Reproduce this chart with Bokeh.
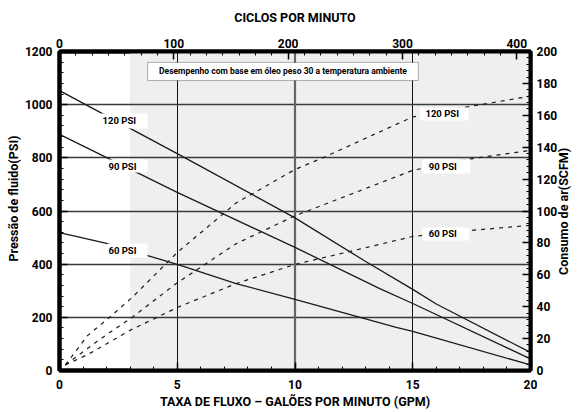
import math
from bokeh.plotting import figure
from bokeh.models import (Range1d, LinearAxis, FixedTicker, SingleIntervalTicker,
                          BoxAnnotation, Label, Span)
from bokeh.embed import file_html
from bokeh.resources import INLINE

# ---------------- data ----------------
# fluid pressure (PSI, left axis) vs flow (GPM)
gpm_p120 = [0, 5, 10, 13, 15, 16, 20]
psi_p120 = [1053, 816, 574, 410, 305, 250, 68]
gpm_p90 = [0, 5, 10, 13.6, 15, 20]
psi_p90 = [888, 670, 463, 308, 252, 44]
gpm_p60 = [0, 2, 5, 7.5, 10, 14.3, 15, 20]
psi_p60 = [519, 478, 399, 327, 268, 162, 147, 21]

# air consumption (SCFM, right axis) vs flow (GPM)
gpm_a120 = [0.25, 1.2, 2.1, 3.1, 5, 7.5, 10, 11.2, 15, 17.6, 20]
scfm_a120 = [3.5, 22, 33, 46, 74, 105, 126, 133.5, 159, 166, 172]
gpm_a90 = [0.25, 1.66, 3.1, 5, 7.5, 10, 15, 17.6, 20]
scfm_a90 = [3.5, 19, 33.5, 55, 79.5, 97, 125.5, 133, 138]
gpm_a60 = [0.25, 1.2, 3.1, 4.1, 5, 7.5, 10, 15, 17.6, 20]
scfm_a60 = [3.5, 10, 26, 33, 39.5, 54.5, 66.5, 84, 88, 91]

series_labels = ["120 PSI", "90 PSI", "60 PSI"]
note_text = "Desempenho com base em óleo peso 30 a temperatura ambiente"
title_top = "CICLOS POR MINUTO"
title_bottom = "TAXA DE FLUXO – GALÕES POR MINUTO (GPM)"
title_left = "Pressão de fluido(PSI)"
title_right = "Consumo de ar(SCFM)"

x_grid = [5, 15]
x_grid_bold = 10
y_grid = [200, 400, 600, 800, 1000]
shade_from_gpm = 3

FONT = "Roboto"
NBSP = "\u00a0"
EMSP = "\u2003"

p = figure(width=582, height=412, x_range=Range1d(0, 20), y_range=Range1d(0, 1200),
           output_backend="svg", toolbar_location=None,
           min_border_left=59, min_border_right=52, min_border_top=51, min_border_bottom=42)
p.extra_x_ranges = {"cpm": Range1d(0, 412)}
p.extra_y_ranges = {"scfm": Range1d(0, 200)}
p.outline_line_color = "black"
p.outline_line_width = 4
p.background_fill_color = "white"

# shaded region
p.add_layout(BoxAnnotation(left=shade_from_gpm, fill_color="#efefef", fill_alpha=1,
                           line_color=None, level="image"))

p.xgrid.ticker = FixedTicker(ticks=x_grid)
p.xgrid.grid_line_color = "#111111"
p.xgrid.grid_line_width = 1
p.ygrid.ticker = FixedTicker(ticks=y_grid)
p.ygrid.grid_line_color = "#3a3a3a"
p.ygrid.grid_line_width = 1.3
p.add_layout(Span(location=x_grid_bold, dimension="height", line_color="#666666",
                  line_width=2.2, level="underlay"))

def style(ax, interval, minor, standoff, label, label_standoff):
    ax.ticker = SingleIntervalTicker(interval=interval, num_minor_ticks=minor)
    ax.axis_line_width = 4
    ax.axis_line_color = "black"
    ax.major_tick_in = 8
    ax.major_tick_out = 0
    ax.minor_tick_in = 4
    ax.minor_tick_out = 0
    ax.major_tick_line_width = 1.5
    ax.minor_tick_line_width = 1
    ax.major_tick_line_color = "black"
    ax.minor_tick_line_color = "black"
    ax.major_label_text_font = FONT
    ax.major_label_text_font_style = "bold"
    ax.major_label_text_font_size = "12px"
    ax.major_label_text_color = "black"
    ax.major_label_standoff = standoff
    ax.axis_label = label
    ax.axis_label_standoff = label_standoff
    ax.axis_label_text_font = FONT
    ax.axis_label_text_font_style = "bold"
    ax.axis_label_text_font_size = "12.5px"
    ax.axis_label_text_color = "black"

style(p.xaxis[0], 5, 5, 9, title_bottom, 2)
# leading no-break spaces move the rotated title up a little, as in the original
style(p.yaxis[0], 200, 5, 7, NBSP * 8 + title_left, 1)

top = LinearAxis(x_range_name="cpm")
style(top, 100, 7, 4, title_top, 11)
p.add_layout(top, "above")

right = LinearAxis(y_range_name="scfm")
style(right, 20, 5, 6, EMSP * 7 + NBSP * 2 + title_right, 3)
right.axis_label_orientation = math.pi / 2   # read bottom-to-top like the original
if "axis_label_align" in right.properties():
    right.axis_label_align = "start"
p.add_layout(right, "right")

# curves
for xs, ys in [(gpm_p120, psi_p120), (gpm_p90, psi_p90), (gpm_p60, psi_p60)]:
    p.line(xs, ys, line_color="#1a1a1a", line_width=1.3)
for xs, ys in [(gpm_a120, scfm_a120), (gpm_a90, scfm_a90), (gpm_a60, scfm_a60)]:
    p.line(xs, ys, y_range_name="scfm", line_color="#1a1a1a", line_width=1.2,
           line_dash="4 5")

# label boxes (left: on pressure curves, right: on air curves)
left_boxes = [(1.74, 3.74, 910, 967, 1.83, 939),
              (2.04, 3.74, 745, 794, 2.08, 769),
              (2.04, 3.74, 425, 478, 2.08, 451)]
right_boxes = [(15.3, 17.37, 940, 989, 15.54, 965),
               (15.4, 17.45, 741, 794, 15.68, 767),
               (15.4, 17.41, 489, 538, 15.68, 514)]
for boxes in (left_boxes, right_boxes):
    for (l, r, b, t, tx, ty), txt in zip(boxes, series_labels):
        p.add_layout(BoxAnnotation(left=l, right=r, bottom=b, top=t, fill_color="white",
                                   fill_alpha=1, line_color=None))
        p.add_layout(Label(x=tx, y=ty, text=txt, text_font=FONT, text_font_style="bold",
                           text_font_size="9.5px", text_baseline="middle",
                           text_align="left", text_color="black"))

# note box
p.add_layout(BoxAnnotation(left=3.74, right=15.24, bottom=1091, top=1159,
                           fill_color="white", fill_alpha=1, line_color="black",
                           line_width=1))
p.add_layout(Label(x=9.49, y=1125, text=note_text, text_font=FONT,
                   text_font_style="bold", text_font_size="8.5px",
                   text_baseline="middle", text_align="center", text_color="black"))

open("out.html", "w").write(file_html(p, INLINE))
